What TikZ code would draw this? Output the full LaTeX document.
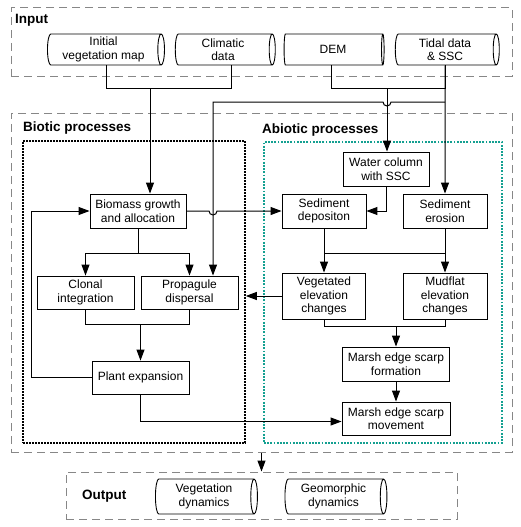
\documentclass[tikz,border=0pt]{standalone}
\usepackage{fontspec}
\setmainfont{Liberation Sans}
\usetikzlibrary{positioning,shapes.geometric,arrows.meta,calc}
\definecolor{abioticteal}{RGB}{20,160,145}
\definecolor{groupgray}{RGB}{135,135,135}

\begin{document}
\begin{tikzpicture}[x=1pt, y=-1pt,
    every node/.style={font=\fontsize{12}{13.5}\selectfont},
    proc/.style={rectangle, draw, line width=0.9pt, align=center, inner sep=1pt},
    datacyl/.style={cylinder, draw, line width=0.9pt, align=center, aspect=0.25, inner sep=1pt},
    groupbox/.style={rectangle, draw=groupgray, line width=1pt, dash pattern=on 8pt off 5pt},
    bioticbox/.style={rectangle, draw, line width=1.6pt, dash pattern=on 1.6pt off 1.4pt},
    abioticbox/.style={rectangle, draw=abioticteal, line width=1.8pt, dash pattern=on 1.8pt off 1.4pt},
    grouptitle/.style={font=\fontsize{13.5}{15}\selectfont\bfseries, anchor=west, inner sep=0pt},
    link/.style={line width=1pt},
    arrow/.style={link, -{Triangle[length=11pt,width=8pt]}}
]
\useasboundingbox (0,0) rectangle (520,527);

% group frames
\node[groupbox, minimum width=501, minimum height=68] (inbox) at (261.5,42) {};
\node[groupbox, minimum width=501, minimum height=339] (procs) at (261.5,282.5) {};
\node[groupbox, minimum width=391, minimum height=47] (outbox) at (261.5,495.5) {};
\node[bioticbox, minimum width=222, minimum height=302] (biotic) at (134,292) {};
\node[abioticbox, minimum width=238, minimum height=301] (abiotic) at (383,292.5) {};

\node[grouptitle] (intitle) at (15,20) {Input};
\node[grouptitle] (biotitle) at (23,128) {Biotic processes};
\node[grouptitle] (abiotitle) at (262,130) {Abiotic processes};
\node[grouptitle] (outtitle) at (82,496) {Output};

% input data (cylinder: minimum height runs along the axis)
\node[datacyl, minimum height=117, minimum width=31] (vegmap) at (103.5,49.5) {Initial\\vegetation map};
\node[datacyl, minimum height=100, minimum width=31] (clim) at (223,49.5) {Climatic\\data};
\node[datacyl, minimum height=100, minimum width=31] (dem) at (333,49.5) {DEM};
\node[datacyl, minimum height=104, minimum width=31] (tidal) at (445,49.5) {Tidal data\\\& SSC};

% biotic processes
\node[proc, minimum width=96, minimum height=34] (biomass) at (138,211) {Biomass growth\\and allocation};
\node[proc, minimum width=97, minimum height=33] (clonal) at (85.5,292.5) {Clonal\\integration};
\node[proc, minimum width=97, minimum height=33] (propagule) at (189.5,292.5) {Propagule\\dispersal};
\node[proc, minimum width=97, minimum height=33] (plant) at (140.5,377.5) {Plant expansion};

% abiotic processes
\node[proc, minimum width=86, minimum height=34] (water) at (386,169) {Water column\\with SSC};
\node[proc, minimum width=84, minimum height=34] (deposit) at (324,211) {Sediment\\depositon};
\node[proc, minimum width=84, minimum height=34] (erosion) at (445,211) {Sediment\\erosion};
\node[proc, minimum width=83, minimum height=46] (vegelev) at (324,296) {Vegetated\\elevation\\changes};
\node[proc, minimum width=84, minimum height=46] (mudelev) at (445,296) {Mudflat\\elevation\\changes};
\node[proc, minimum width=107, minimum height=34] (formation) at (396,364) {Marsh edge scarp\\formation};
\node[proc, minimum width=108, minimum height=33] (movement) at (396,418.5) {Marsh edge scarp\\movement};

% output
\node[datacyl, minimum height=102, minimum width=35] (vegdyn) at (204,496.5) {Vegetation\\dynamics};
\node[datacyl, minimum height=102, minimum width=35] (geodyn) at (333.5,496.5) {Geomorphic\\dynamics};

% input connectors
\coordinate (inbio) at (150,88);
\coordinate (inwater) at (387,88);
\coordinate (tidprop) at (445,102);
\coordinate (propin) at (213,102);
\draw[link] ([xshift=2.5pt]vegmap.south) -- ++(0,23) -| ([xshift=8pt]clim.south);
\draw[arrow] (inbio) -- (biomass.north -| inbio);
\draw[link] ([xshift=-2pt]dem.south) -- ++(0,23) -| (tidal.south);
\draw[arrow] (tidal.south) -- (erosion.north);
\draw[arrow] (inwater) -- (water.north -| inwater);
\draw[arrow] (tidprop) -- (391,102) arc[start angle=0, end angle=180, radius=4] -- (propin) -- (propagule.north -| propin);

% biotic connectors
\draw[arrow] (biomass.east) -- (209,211) arc[start angle=180, end angle=0, radius=4] -- (deposit.west);
\draw[link] (biomass.south) -- ++(0,25) coordinate (bsplit);
\draw[arrow] (bsplit) -| (clonal.north);
\draw[arrow] (bsplit) -| (propagule.north);
\draw[link] (clonal.south) -- ++(0,15) coordinate (pjoin) -| (propagule.south);
\draw[arrow] (plant.north |- pjoin) -- (plant.north);
\draw[arrow] (plant.west) -- ++(-60,0) |- (biomass.west);
\draw[arrow] (plant.south) |- ([yshift=-3pt]movement.west);

% abiotic connectors
\draw[arrow] (water.south) |- (deposit.east);
\draw[arrow] (deposit.south) -- (vegelev.north);
\draw[arrow] (erosion.south) -- (mudelev.north);
\path (deposit.south) -- ++(0,25) coordinate (dsplit);
\draw[link] (dsplit) -- (dsplit -| erosion.south);
\draw[arrow] (vegelev.west) -- (vegelev.west -| biotic.east);
\draw[link] (vegelev.south) -- ++(0,7) coordinate (ejoin) -| (mudelev.south);
\draw[arrow] (formation.north |- ejoin) -- (formation.north);
\draw[arrow] (formation.south) -- (movement.north);

\draw[arrow] (procs.south) -- (outbox.north);

\end{tikzpicture}
\end{document}
